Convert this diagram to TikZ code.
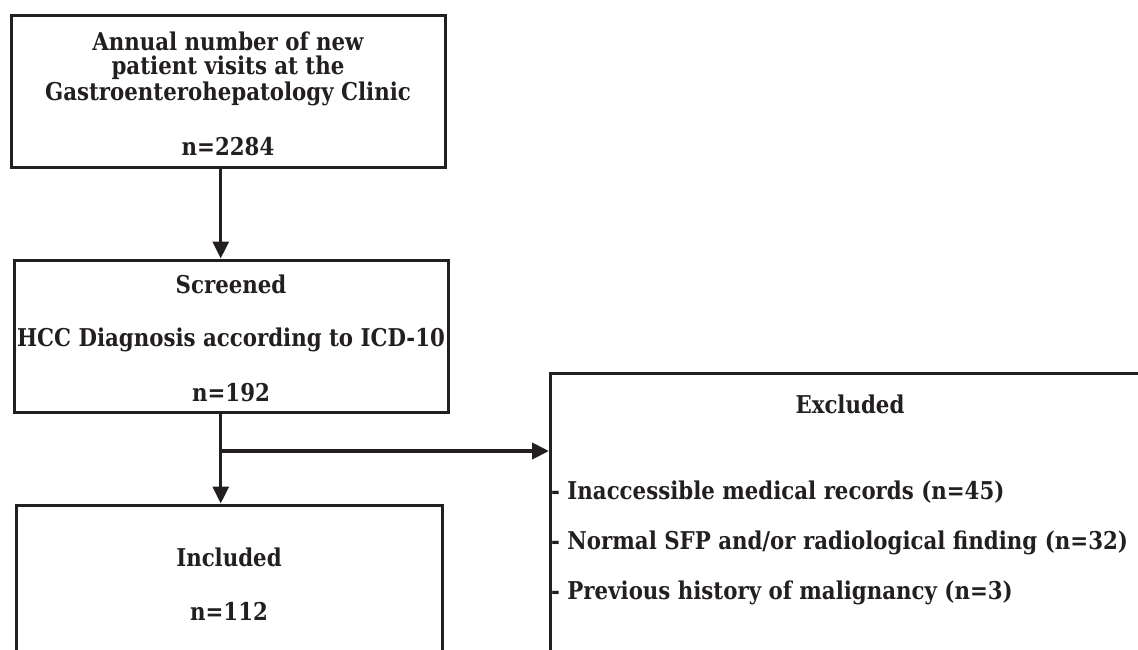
\documentclass[tikz,border=0pt]{standalone}
\usepackage{fontspec}
\setmainfont{DejaVu Serif}[FakeStretch=0.87]
\usetikzlibrary{arrows.meta}
\definecolor{ink}{HTML}{231F20}
\tikzset{
  box/.style={draw=ink, line width=3pt, rectangle, inner sep=0pt},
  lbl/.style={text=ink, font=\fontsize{24.5}{29}\selectfont\bfseries, inner sep=0pt, anchor=base},
  itm/.style={lbl, anchor=base west},
  conn/.style={draw=ink, line width=3pt, -{Triangle[length=17pt,width=16pt]}},
}
\begin{document}
\begin{tikzpicture}[x=1pt,y=-1pt]
\useasboundingbox (0,0) rectangle (1138,649);
\clip (0,0) rectangle (1138,649);
% boxes
\node[box, minimum width=434pt, minimum height=152pt] (b1) at (228,91) {};
\node[box, minimum width=434pt, minimum height=152pt] (b2) at (231,336) {};
\node[box, minimum width=426pt, minimum height=200pt] (inc) at (229,605) {};
\node[box, minimum width=600pt, minimum height=330pt] (exc) at (850.5,538) {};
% texts
\node[lbl] (t1a) at (228,50) {Annual number of new};
\node[lbl] (t1b) at (228,74.5) {patient visits at the};
\node[lbl] (t1c) at (228,100.5) {Gastroenterohepatology Clinic};
\node[lbl] (t1d) at (228,155) {n=2284};
\node[lbl] (t2a) at (231,293) {Screened};
\node[lbl] (t2b) at (231,346) {HCC Diagnosis according to ICD-10};
\node[lbl] (t2c) at (231,401) {n=192};
\node[lbl] (t3a) at (229,566) {Included};
\node[lbl] (t3b) at (229,620) {n=112};
\node[lbl] (t4a) at (850,413) {Excluded};
\node[itm] (t4b) at (551,499) {- Inaccessible medical records (n=45)};
\node[itm] (t4c) at (551,549) {- Normal SFP and/or radiological finding (n=32)};
\node[itm] (t4d) at (551,599) {- Previous history of malignancy (n=3)};
% connectors
\coordinate (ax) at (220.7,0);
\coordinate (br) at (220.7,451);
\draw[conn] (b1.south -| ax) -- (b2.north -| ax);
\draw[conn] (b2.south -| ax) -- (inc.north -| ax);
\draw[conn, line width=4pt] (br) -- (exc.west |- br);
\end{tikzpicture}
\end{document}
